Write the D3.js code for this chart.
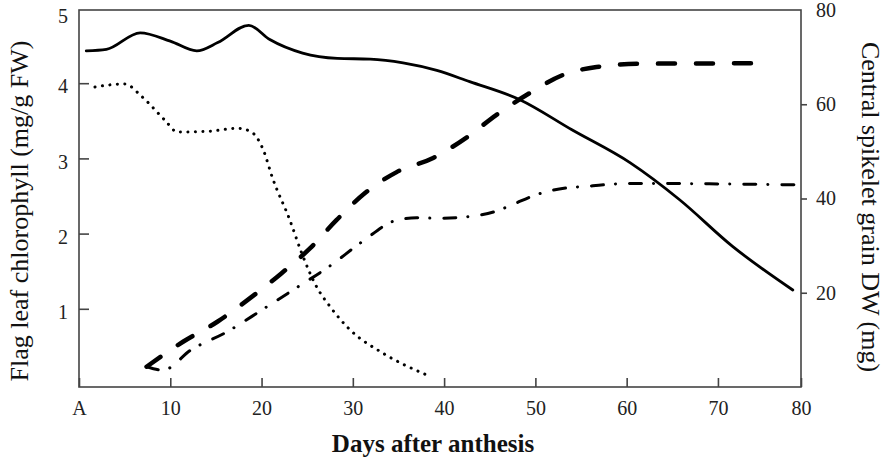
<!DOCTYPE html>
<html>
<head>
<meta charset="utf-8">
<script src="https://cdn.jsdelivr.net/npm/d3@7"></script>
<style>
    body { margin: 0; background: #fff; }
    svg { display: block; font-family: "Liberation Serif", "Times New Roman", serif; }
</style>
</head>
<body>
<svg id="chart" width="888" height="462"></svg>
<script>
// chlorophyll, left axis (mg/g FW)
const chlSolid = [
    [0.8, 4.43], [3, 4.45], [6.7, 4.67], [10, 4.56], [12.9, 4.43], [15.2, 4.54],
    [18.6, 4.77], [20.9, 4.58], [24.5, 4.40], [28.3, 4.33], [31.9, 4.32],
    [35.5, 4.27], [39.2, 4.17], [42.8, 4.02], [48.3, 3.78], [54, 3.38],
    [60.4, 2.94], [65.8, 2.45], [71.6, 1.83], [78.2, 1.25]
];
const chlDotted = [
    [1.75, 3.95], [5, 3.99], [6.9, 3.82], [9.4, 3.51], [10.8, 3.35], [14.1, 3.36],
    [17.4, 3.40], [18.9, 3.35], [20.2, 3.11], [21.2, 2.74], [23.1, 2.18],
    [24.4, 1.74], [26, 1.30], [27.5, 1.03], [29.7, 0.72], [33.3, 0.41], [37.9, 0.13]
];
// grain dry weight, right axis (mg)
const dwDashed = [
    [7.4, 4.3], [11.4, 9.6], [15.2, 13.9], [18.7, 18.8], [22.1, 24], [25.3, 29.4],
    [28.2, 35.4], [31.3, 41.1], [34.8, 45.6], [38.8, 48.6], [42.5, 53],
    [45.7, 57.7], [49.4, 62.4], [53, 66.2], [56.7, 67.9], [61.8, 68.6], [75.6, 68.7]
];
const dwDashDot = [
    [7.4, 4.3], [9.2, 3.6], [12.3, 7.9], [16.2, 11.7], [20, 16.3], [23.7, 20.9],
    [27.5, 25.7], [31, 30.8], [34.8, 35.4], [37, 35.9], [39.5, 35.8], [43.6, 36.4],
    [45.7, 37.3], [47.6, 38.8], [49.8, 40.6], [52, 41.8], [56.3, 42.7],
    [60.4, 43.2], [78.6, 42.9]
];

const xTicks = [0, 10, 20, 30, 40, 50, 60, 70, 80];
const xTickLabels = ["A", "10", "20", "30", "40", "50", "60", "70", "80"];
const yLeftTicks = [1, 2, 3, 4, 5];
const yRightTicks = [20, 40, 60, 80];

const svg = d3.select("#chart");
const frame = { left: 79, right: 801, top: 10, bottom: 387 };
const axisColor = "#444";
const xMax = 79.1;

const x = d3.scaleLinear().domain([0, xMax]).range([frame.left, frame.right]);
const yL = d3.scaleLinear().domain([0, 5]).range([384, 8]);
const yR = d3.scaleLinear().domain([0, 80]).range([frame.bottom, frame.top]);

// bottom axis, ticks point inward
var gx = svg.append("g")
    .attr("transform", "translate(0," + frame.bottom + ")")
    .call(d3.axisBottom(x)
        .tickValues(xTicks.map(v => Math.min(v, xMax)))
        .tickFormat((d, i) => xTickLabels[i])
        .tickSizeInner(-9)
        .tickSizeOuter(0)
        .tickPadding(14));

// left axis
var gl = svg.append("g")
    .attr("transform", "translate(" + frame.left + ",0)")
    .call(d3.axisLeft(yL)
        .tickValues(yLeftTicks)
        .tickFormat(d3.format("d"))
        .tickSizeInner(-10)
        .tickSizeOuter(0)
        .tickPadding(11));
gl.selectAll(".tick").filter(d => d === 5).select("line").remove();
gl.selectAll(".tick text").attr("dy", d => d === 5 ? "0.7em" : "0.48em");

// right axis, ticks point outward
var gr = svg.append("g")
    .attr("transform", "translate(" + frame.right + ",0)")
    .call(d3.axisRight(yR)
        .tickValues(yRightTicks)
        .tickSizeInner(6)
        .tickSizeOuter(0)
        .tickPadding(9));
gr.selectAll(".tick").filter(d => d === 80).select("line").remove();

[gx, gl, gr].forEach(g => {
    g.select(".domain").remove();
    g.selectAll(".tick line").attr("stroke", axisColor).attr("stroke-width", 1.6);
    g.selectAll(".tick text")
        .attr("fill", "#222")
        .style("font-family", "'Liberation Serif', serif")
        .style("font-size", "20px");
});

// frame box
svg.append("rect")
    .attr("x", frame.left)
    .attr("y", frame.top)
    .attr("width", frame.right - frame.left)
    .attr("height", frame.bottom - frame.top)
    .attr("fill", "none")
    .attr("stroke", axisColor)
    .attr("stroke-width", 1.6);

function drawLine(data, yScale, width, dash) {
    var line = d3.line()
        .x(d => x(d[0]))
        .y(d => yScale(d[1]))
        .curve(d3.curveMonotoneX);
    svg.append("path")
        .datum(data)
        .attr("d", line)
        .attr("fill", "none")
        .attr("stroke", "#000")
        .attr("stroke-width", width)
        .attr("stroke-linecap", "round")
        .attr("stroke-linejoin", "round")
        .attr("stroke-dasharray", dash);
}

drawLine(chlSolid, yL, 2.8, null);
drawLine(chlDotted, yL, 3, "0.1 7.4");
drawLine(dwDashed, yR, 4.5, "17 21");
drawLine(dwDashDot, yR, 3, "12 12 0.1 14");

// axis titles
svg.append("text")
    .attr("transform", "translate(28," + 211 + ") rotate(-90)")
    .attr("text-anchor", "middle")
    .attr("fill", "#111")
    .style("font-size", "26px")
    .text("Flag leaf chlorophyll (mg/g FW)");

svg.append("text")
    .attr("transform", "translate(862," + 207 + ") rotate(90)")
    .attr("text-anchor", "middle")
    .attr("fill", "#111")
    .style("font-size", "26px")
    .text("Central spikelet grain DW (mg)");

svg.append("text")
    .attr("x", 433)
    .attr("y", 452)
    .attr("text-anchor", "middle")
    .attr("fill", "#111")
    .style("font-size", "25px")
    .style("font-weight", "bold")
    .text("Days after anthesis");
</script>
</body>
</html>
